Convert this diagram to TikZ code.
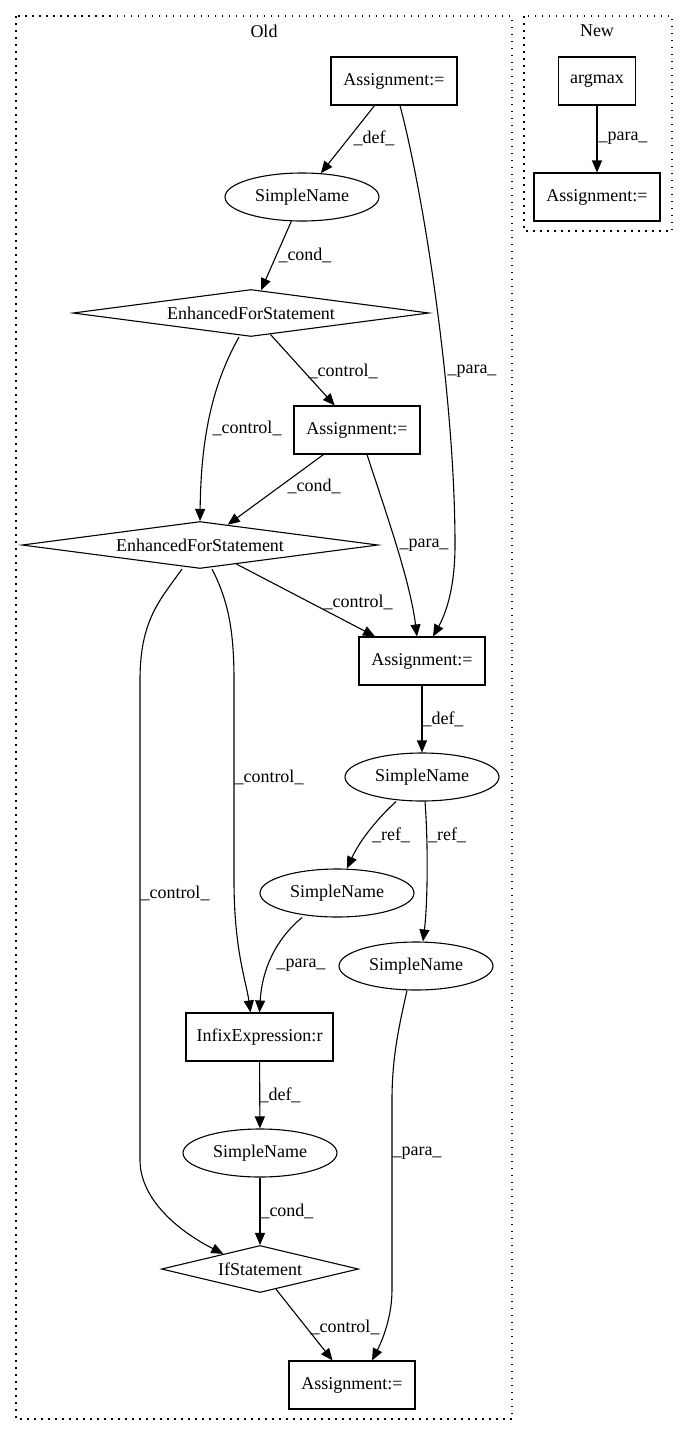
\documentclass[tikz,border=0pt]{standalone}
\usepackage{fontspec}
\setmainfont{Liberation Serif}
\usetikzlibrary{shapes.geometric,arrows.meta,calc}
\tikzset{
  base/.style={draw, line width=1.1pt, inner sep=0pt, font=\fontsize{18}{20}\selectfont},
  rectnode/.style={base, rectangle, minimum height=48pt},
  ellnode/.style={base, ellipse, minimum width=154pt, minimum height=48pt},
  dianode/.style={base, diamond, minimum height=47pt},
  edge/.style={line width=1.1pt, -{Triangle[length=12pt,width=10pt]}},
  lbl/.style={font=\fontsize{18}{20}\selectfont, inner sep=0pt},
  cluster/.style={line width=1.1pt, dash pattern=on 1.5pt off 5.5pt}
}
\begin{document}
\begin{tikzpicture}[x=1pt,y=-1pt]
\useasboundingbox (0,0) rectangle (684,1436);
% clusters
\draw[cluster] (16,16) rectangle (512,1419);
\draw[cluster] (524,16) rectangle (672,231);
\node[lbl] (oldt) at (264,31) {Old};
\node[lbl] (newt) at (597,31) {New};
% nodes
\node[rectnode, minimum width=126pt] (a1) at (394,81) {Assignment:=};
\node[ellnode] (sn1) at (302,197) {SimpleName};
\node[dianode, aspect=7.4, minimum width=356pt] (efs1) at (251,313) {EnhancedForStatement};
\node[rectnode, minimum width=126pt] (a2) at (357,430) {Assignment:=};
\node[dianode, aspect=7.4, minimum width=356pt] (efs2) at (200,545) {EnhancedForStatement};
\node[rectnode, minimum width=126pt] (a3) at (422,661) {Assignment:=};
\node[ellnode] (sn2) at (422,777) {SimpleName};
\node[ellnode] (sn3) at (337,893) {SimpleName};
\node[ellnode] (sn4) at (416,966) {SimpleName};
\node[rectnode, minimum width=147pt] (infix) at (259.5,1037) {InfixExpression:r};
\node[ellnode] (sn5) at (260,1153) {SimpleName};
\node[dianode, aspect=4.2, minimum width=197pt] (ifs) at (260,1269) {IfStatement};
\node[rectnode, minimum width=126pt] (a4) at (352,1385) {Assignment:=};
\node[rectnode, minimum width=77pt] (argmax) at (597,81) {argmax};
\node[rectnode, minimum width=126pt] (a5) at (597,197) {Assignment:=};
% edges
\draw[edge] (a1) -- (sn1);
\node[lbl] (l1) at (374,138) {\_def\_};
\draw[edge] (sn1) -- (efs1);
\node[lbl] (l2) at (305,255) {\_cond\_};
\draw[edge] ([xshift=6pt]a1.south) .. controls (425,200) and (455,400) .. (455,545) .. controls (455,590) and (445,615) .. ([xshift=11pt]a3.north);
\node[lbl] (l3) at (472,371) {\_para\_};
\draw[edge] (efs1) -- (a2);
\node[lbl] (l4) at (343,371) {\_control\_};
\draw[edge] ([xshift=-12pt]efs1.south) .. controls (215,380) and (201,430) .. (efs2.north);
\node[lbl] (l5) at (247,428) {\_control\_};
\draw[edge] (a2) -- (efs2);
\node[lbl] (l6) at (314,486) {\_cond\_};
\draw[edge] ([xshift=10pt]a2.south) .. controls (385,510) and (410,580) .. ([xshift=-5pt]a3.north);
\node[lbl] (l7) at (424,545) {\_para\_};
\draw[edge] (efs2) -- (a3);
\node[lbl] (l8) at (358,602) {\_control\_};
\draw[edge] (a3) -- (sn2);
\node[lbl] (l9) at (443,719) {\_def\_};
\draw[edge] ([xshift=-26pt]sn2.south) .. controls (378,818) and (360,840) .. ([xshift=10pt]sn3.north);
\node[lbl] (l10) at (391,835) {\_ref\_};
\draw[edge] ([xshift=3pt]sn2.south) .. controls (428,840) and (428,900) .. ([xshift=7pt]sn4.north);
\node[lbl] (l11) at (447,835) {\_ref\_};
\draw[edge] ([xshift=12pt]efs2.south) .. controls (228,600) and (234,630) .. (234,680) -- (234,880) .. controls (234,950) and (246,980) .. ([xshift=-9pt]infix.north);
\node[lbl] (l12) at (269,777) {\_control\_};
\draw[edge] ([xshift=-35pt]sn3.south) .. controls (275,940) and (262,970) .. (infix.north);
\node[lbl] (l13) at (301,965) {\_para\_};
\draw[edge] ([xshift=-18pt]efs2.south) .. controls (160,600) and (140,620) .. (140,680) -- (140,1160) .. controls (140,1200) and (180,1232) .. ($(ifs.north)!0.37!(ifs.west)$);
\node[lbl] (l14) at (175,893) {\_control\_};
\draw[edge] (infix) -- (sn5);
\node[lbl] (l15) at (280,1095) {\_def\_};
\draw[edge] (sn5) -- (ifs);
\node[lbl] (l16) at (287,1211) {\_cond\_};
\draw[edge] ([xshift=-9pt]sn4.south) .. controls (398,1030) and (392,1060) .. (392,1100) -- (392,1290) .. controls (392,1320) and (380,1345) .. ([xshift=20pt]a4.north);
\node[lbl] (l17) at (417,1153) {\_para\_};
\draw[edge] (ifs) -- (a4);
\node[lbl] (l18) at (345,1327) {\_control\_};
\draw[edge] (argmax) -- (a5);
\node[lbl] (l19) at (623,138) {\_para\_};
\end{tikzpicture}
\end{document}
